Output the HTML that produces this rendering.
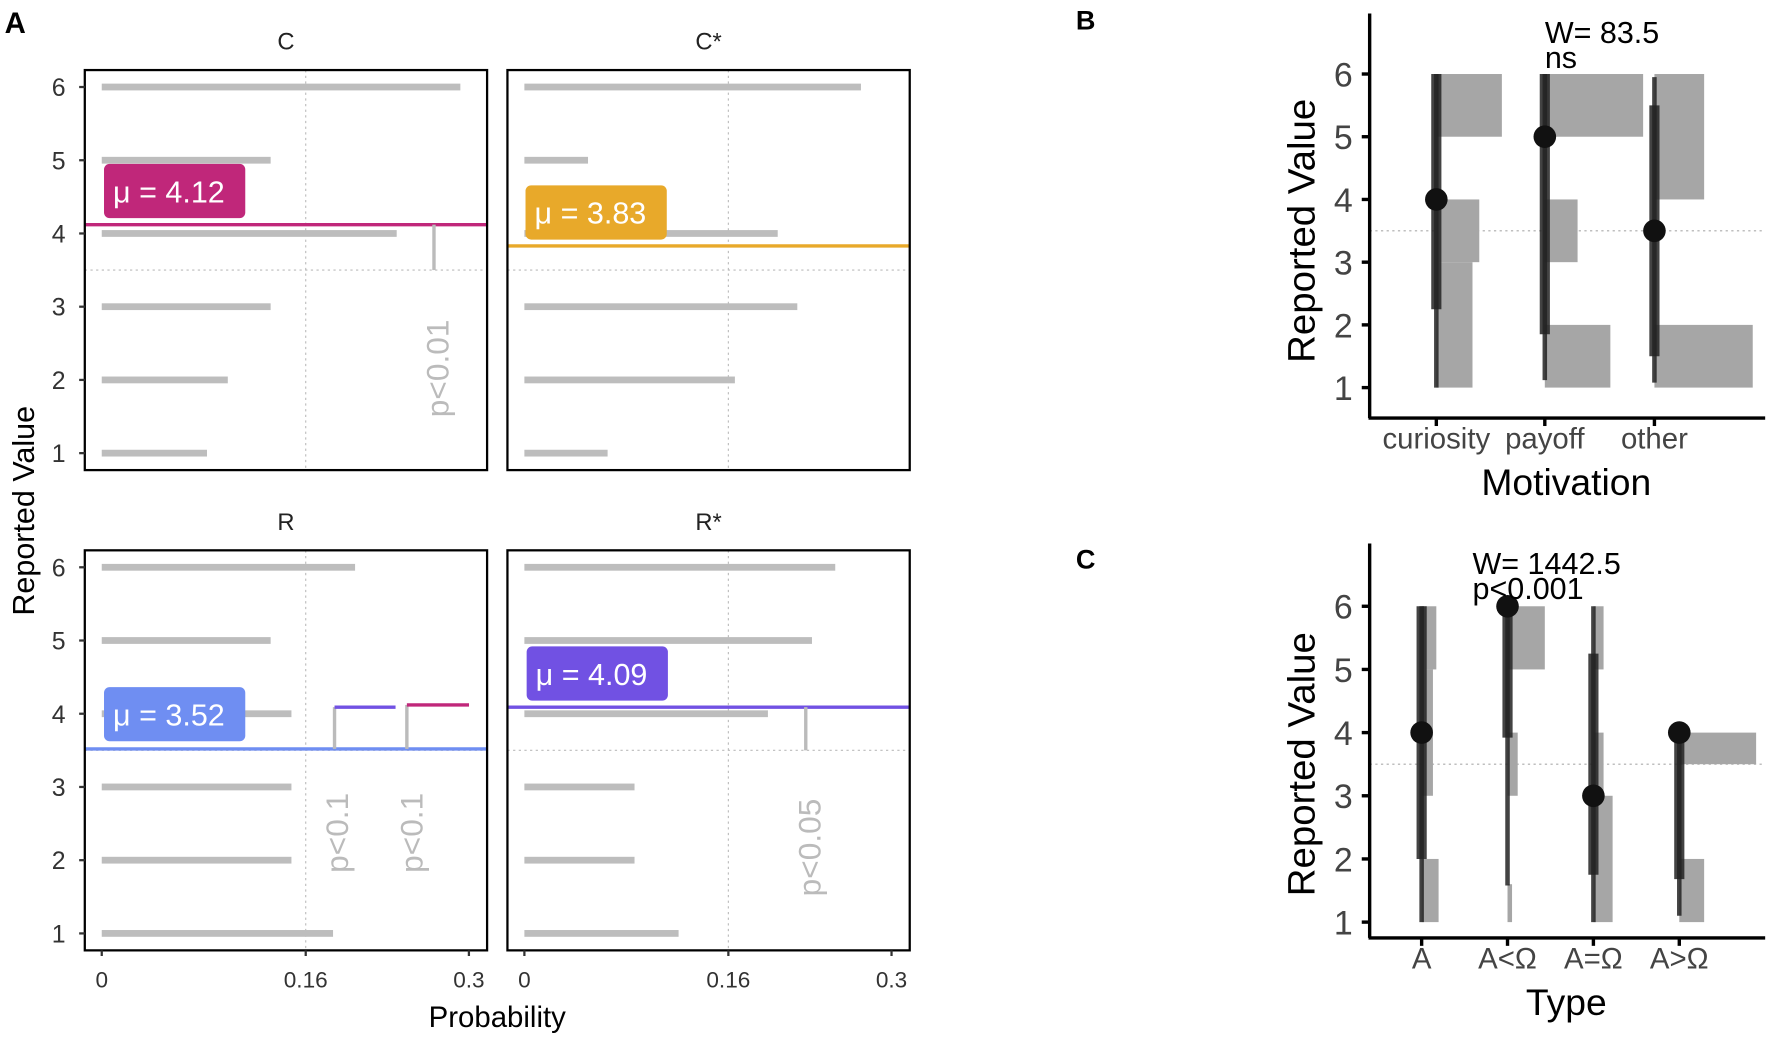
<!DOCTYPE html>
<html><head><meta charset="utf-8"><style>
html,body{margin:0;padding:0;background:#fff;}
svg{display:block;font-family:"Liberation Sans",sans-serif;}
</style></head><body>
<svg id="fig" width="1772" height="1048" viewBox="0 0 1568 927.4" xmlns="http://www.w3.org/2000/svg"></svg>
<script>
// Panel A data
const levels = [1,2,3,4,5,6];
const panelNames = ["C","C*","R","R*"];
const probC  = [0.086,0.103,0.138,0.241,0.138,0.293];
const probCs = [0.068,0.172,0.223,0.207,0.052,0.275];
const probR  = [0.189,0.155,0.155,0.155,0.138,0.207];
const probRs = [0.126,0.090,0.090,0.199,0.235,0.254];
const means = [4.12,3.83,3.52,4.09];
const meanColors = ["#c0277a","#e8a92a","#6f8ef2","#7151e3"];
const xTicks = [0,1/6,0.3];
const xTickLabels = ["0","0.16","0.3"];
// Panel B data
const motCats = ["curiosity","payoff","other"];
const motPoint = [4,5,3.5];
const motThickLo = [2.25,1.85,1.5];
const motThickHi = [6,6,5.5];
const motThinLo = [1,1.12,1.08];
const motThinHi = [6,6,5.95];
const motHistLo = [[5,3,1],[5,3,1],[4,1]];
const motHistHi = [[6,4,3],[6,4,2],[6,2]];
const motHistW = [[0.58,0.38,0.32],[0.87,0.29,0.58],[0.44,0.87]];
// Panel C data
const typeCats = ["A","A<Ω","A=Ω","A>Ω"];
const typePoint = [4,6,3,4];
const typeThickLo = [2,3.92,1.75,1.68];
const typeThickHi = [6,6,5.25,4];
const typeThinLo = [1,1.58,1,1.1];
const typeThinHi = [6,6,6,4];
const typeHistLo = [[5,3,1],[5,3,1],[5,3,1],[3.5,1]];
const typeHistHi = [[6,5,2],[6,4,1.6],[6,4,3],[4,2]];
const typeHistW = [[0.13,0.10,0.15],[0.33,0.09,0.04],[0.09,0.09,0.17],[0.68,0.22]];

const svg = document.getElementById('fig');
const NS = "http://www.w3.org/2000/svg";
function el(tag, attrs, parent){
  const e = document.createElementNS(NS, tag);
  for (const k in attrs) e.setAttribute(k, attrs[k]);
  (parent||svg).appendChild(e);
  return e;
}
function txt(s, attrs, parent){ const t = el('text', attrs, parent); t.textContent = s; return t; }

// ---------- Panel A ----------
const probs = [probC, probCs, probR, probRs];
const boxes = [[75,62],[449,62],[75,487],[449,487]];
const BW = 356, BH = 354;
const panelA = el('g', {});


const lblA = txt("A", {x:4,y:29,"font-size":26,"font-weight":"bold"});



const labelPos = [[92,145],[465,164],[92,608],[466,572]];
for (let p=0;p<4;p++){
  const [bx,by] = boxes[p];
  const xs = v => bx + 15 + v*1083;
  const ys = v => by + 15 + (6-v)*64.8;
  const g = el('g', {}, panelA);
  
  
  const strip = txt(panelNames[p], {x:bx+BW/2,y:by-18,"font-size":21,"text-anchor":"middle",fill:"#222"}, g);
  
  
  const gv = el('line',{x1:xs(1/6),x2:xs(1/6),y1:by,y2:by+BH,stroke:"#bbb","stroke-width":1,"stroke-dasharray":"2,3"},g);
  
  
  const gh = el('line',{x1:bx,x2:bx+BW,y1:ys(3.5),y2:ys(3.5),stroke:"#bbb","stroke-width":1,"stroke-dasharray":"2,3"},g);
  
  
  for (let i=0;i<levels.length;i++){
    const b = el('rect',{x:xs(0),y:ys(levels[i])-3,width:xs(probs[p][i])-xs(0),height:6,fill:"#bdbdbd"},g);
    
    
  }
  const ml = el('line',{x1:bx,x2:bx+BW,y1:ys(means[p]),y2:ys(means[p]),stroke:meanColors[p],"stroke-width":3},g);
  
  
  const [lx,ly] = labelPos[p];
  const lb = el('rect',{x:lx,y:ly,width:125,height:48,rx:5,fill:meanColors[p]},g);
  
  
  const lt = txt("μ = "+means[p].toFixed(2),{x:lx+8,y:ly+34,"font-size":27,fill:"#fff"},g);
  
  
  el('rect',{x:bx,y:by,width:BW,height:BH,fill:"none",stroke:"#000","stroke-width":2},g);
  if (p%2===0){
    for (const v of levels){
      el('line',{x1:bx-5,x2:bx,y1:ys(v),y2:ys(v),stroke:"#333","stroke-width":2},g);
      const t = txt(String(v),{x:bx-17,y:ys(v)+8,"font-size":22,"text-anchor":"end",fill:"#333"},g);
      
      
    }
  }
  if (p>=2){
    for (let i=0;i<xTicks.length;i++){
      el('line',{x1:xs(xTicks[i]),x2:xs(xTicks[i]),y1:by+BH,y2:by+BH+5,stroke:"#333","stroke-width":2},g);
      const t = txt(xTickLabels[i],{x:xs(xTicks[i]),y:by+BH+33,"font-size":20,"text-anchor":"middle",fill:"#333"},g);
      
      
    }
  }
  const ann = el('g',{},g);
  
  
  if (p===0){
    el('line',{x1:384,x2:384,y1:ys(means[0]),y2:ys(3.5),stroke:"#bbb","stroke-width":3},ann);
    txt("p<0.01",{x:0,y:0,"font-size":28,fill:"#bbb","text-anchor":"middle",transform:`translate(397,326) rotate(-90)`},ann);
  }
  if (p===2){
    el('line',{x1:296,x2:296,y1:ys(means[2]),y2:ys(means[3]),stroke:"#bbb","stroke-width":3},ann);
    el('line',{x1:296,x2:350,y1:ys(means[3]),y2:ys(means[3]),stroke:meanColors[3],"stroke-width":3},ann);
    el('line',{x1:360,x2:360,y1:ys(means[2]),y2:ys(means[0]),stroke:"#bbb","stroke-width":3},ann);
    el('line',{x1:360,x2:415,y1:ys(means[0]),y2:ys(means[0]),stroke:meanColors[0],"stroke-width":3},ann);
    txt("p<0.1",{x:0,y:0,"font-size":28,fill:"#bbb","text-anchor":"middle",transform:`translate(308,737) rotate(-90)`},ann);
    txt("p<0.1",{x:0,y:0,"font-size":28,fill:"#bbb","text-anchor":"middle",transform:`translate(374,737) rotate(-90)`},ann);
  }
  if (p===3){
    el('line',{x1:713,x2:713,y1:ys(means[3]),y2:ys(3.5),stroke:"#bbb","stroke-width":3},ann);
    txt("p<0.05",{x:0,y:0,"font-size":28,fill:"#bbb","text-anchor":"middle",transform:`translate(726,750) rotate(-90)`},ann);
  }
}
const aY = txt("Reported Value",{x:0,y:0,"font-size":27,"text-anchor":"middle",transform:"translate(30,452) rotate(-90)"},panelA);


const aX = txt("Probability",{x:440,y:909,"font-size":26,"text-anchor":"middle"},panelA);



// ---------- Panels B, C ----------
function dotPanel(cfg){
  const g = el('g',{});
  
  
  const ys = v => cfg.y6 + (6-v)*cfg.unit;
  const lab = txt(cfg.letter,{x:952,y:cfg.letterY,"font-size":24,"font-weight":"bold"},g);
  
  
  const ref = el('line',{x1:1212,x2:1562,y1:ys(3.5),y2:ys(3.5),stroke:"#aaa","stroke-width":1,"stroke-dasharray":"2,3"},g);
  
  
  for (let c=0;c<cfg.cats.length;c++){
    const x = cfg.xs[c];
    for (let k=0;k<cfg.hLo[c].length;k++){
      const r = el('rect',{x:x,y:ys(cfg.hHi[c][k]),width:cfg.hW[c][k]*100,height:ys(cfg.hLo[c][k])-ys(cfg.hHi[c][k]),fill:"#a6a6a6"},g);
      
      
    }
    const thin = el('line',{x1:x,x2:x,y1:ys(cfg.thinLo[c]),y2:ys(cfg.thinHi[c]),stroke:"#222","stroke-opacity":0.85,"stroke-width":4},g);
    
    
    const thick = el('line',{x1:x,x2:x,y1:ys(cfg.thickLo[c]),y2:ys(cfg.thickHi[c]),stroke:"#222","stroke-opacity":0.85,"stroke-width":9},g);
    
    
    const pt = el('circle',{cx:x,cy:ys(cfg.pt[c]),r:10,fill:"#111"},g);
    
    
    el('line',{x1:x,x2:x,y1:cfg.axisY,y2:cfg.axisY+7,stroke:"#000","stroke-width":3},g);
    const tl = txt(cfg.cats[c],{x:x,y:cfg.axisY+27,"font-size":26,"text-anchor":"middle",fill:"#444"},g);
    
    
  }
  for (const v of levels){
    el('line',{x1:1205,x2:1212,y1:ys(v),y2:ys(v),stroke:"#000","stroke-width":3},g);
    const t = txt(String(v),{x:1197,y:ys(v)+11,"font-size":30,"text-anchor":"end",fill:"#444"},g);
    
    
  }
  el('line',{x1:1212,x2:1212,y1:cfg.topY,y2:cfg.axisY,stroke:"#000","stroke-width":3},g);
  el('line',{x1:1211,x2:1562,y1:cfg.axisY,y2:cfg.axisY,stroke:"#000","stroke-width":3},g);
  const yt = txt("Reported Value",{x:0,y:0,"font-size":34,"text-anchor":"middle",transform:`translate(1163,${ys(3.5)}) rotate(-90)`},g);
  
  
  const xt = txt(cfg.xTitle,{x:1386,y:cfg.axisY+68,"font-size":33,"text-anchor":"middle"},g);
  
  
  const s1 = txt(cfg.stat1,{x:cfg.statX,y:cfg.statY,"font-size":27},g);
  
  
  const s2 = txt(cfg.stat2,{x:cfg.statX,y:cfg.statY+22,"font-size":27},g);
  
  
}
dotPanel({name:"panel-b",letter:"B",letterY:26,cats:motCats,xs:[1271,1367,1464],y6:65.5,unit:55.5,
  pt:motPoint,thickLo:motThickLo,thickHi:motThickHi,thinLo:motThinLo,thinHi:motThinHi,
  hLo:motHistLo,hHi:motHistHi,hW:motHistW,axisY:370,topY:12,xTitle:"Motivation",
  stat1:"W= 83.5",stat2:"ns",statX:1367,statY:38});
dotPanel({name:"panel-c",letter:"C",letterY:503,cats:typeCats,xs:[1258,1334,1410,1486],y6:536.5,unit:55.9,
  pt:typePoint,thickLo:typeThickLo,thickHi:typeThickHi,thinLo:typeThinLo,thinHi:typeThinHi,
  hLo:typeHistLo,hHi:typeHistHi,hW:typeHistW,axisY:830,topY:481,xTitle:"Type",
  stat1:"W= 1442.5",stat2:"p<0.001",statX:1303,statY:508});
</script>
</body></html>
